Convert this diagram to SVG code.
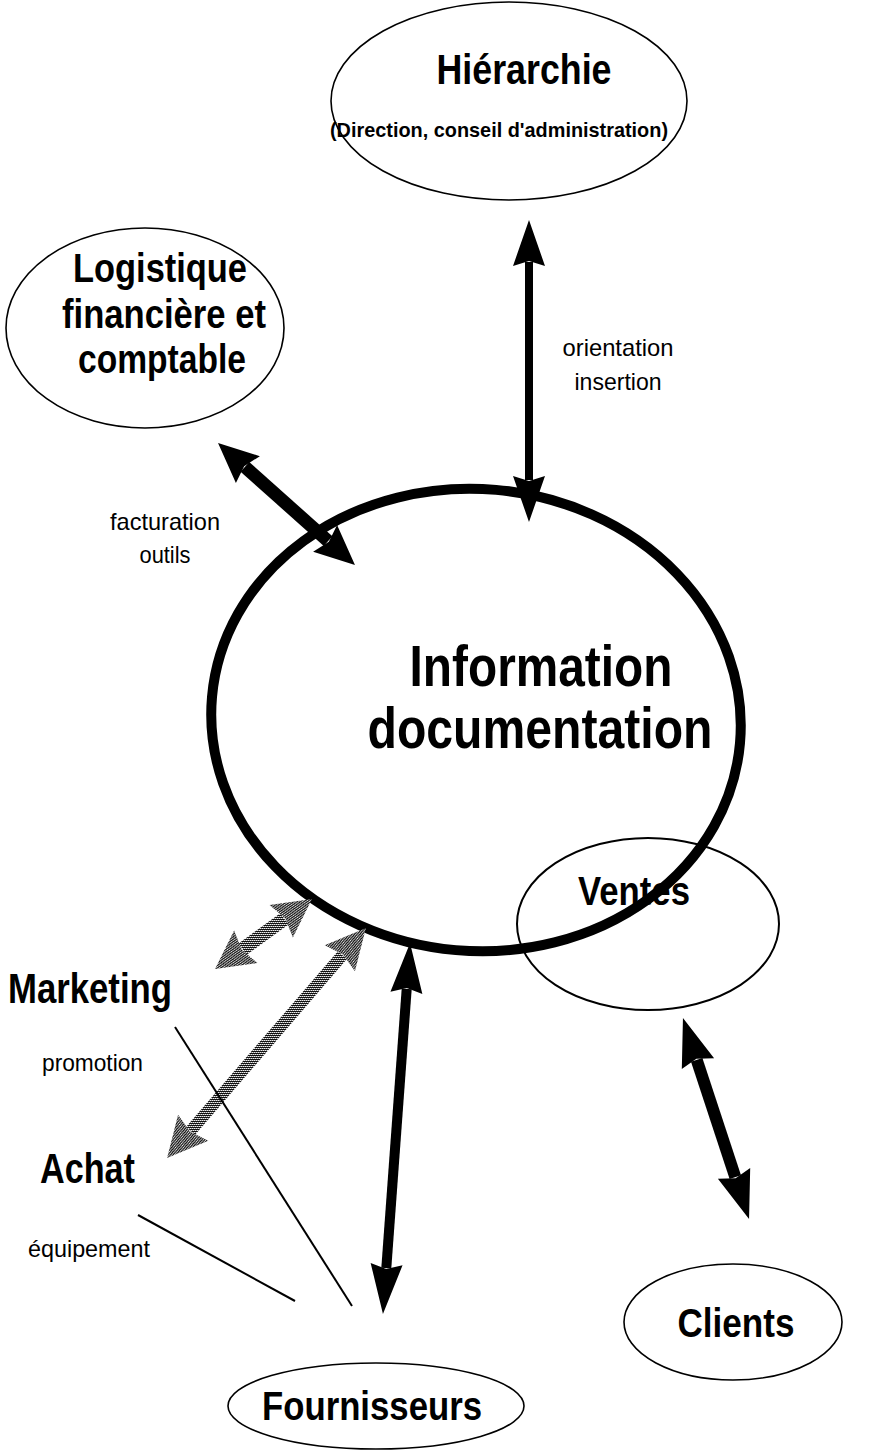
<svg xmlns="http://www.w3.org/2000/svg" width="878" height="1452" viewBox="0 0 878 1452">
  <style>
    .node { fill: none; stroke: #000; }
    .thin { stroke-width: 1.6; }
    .t { font-family: "Liberation Sans Narrow", "Liberation Sans", Arial, sans-serif; fill: #000; }
    .b { font-weight: bold; }
    .mid { text-anchor: middle; }
    .shaft { stroke: #000; fill: none; stroke-linecap: butt; }
    .gray { stroke: url(#dither); }
    .link { stroke: #000; stroke-width: 2; fill: none; }
  </style>
  <defs>
    <!-- halftone used by the two grey arrows -->
    <pattern id="dither" patternUnits="userSpaceOnUse" width="4" height="4">
      <rect width="4" height="4" fill="#111"/>
      <rect x="0" y="0" width="1" height="1" fill="#eee"/>
      <rect x="2" y="0" width="1" height="1" fill="#eee"/>
      <rect x="1" y="2" width="1" height="1" fill="#eee"/>
      <rect x="3" y="2" width="1" height="1" fill="#eee"/>
      <rect x="1" y="0" width="1" height="1" fill="#888"/>
      <rect x="3" y="0" width="1" height="1" fill="#888"/>
      <rect x="0" y="2" width="1" height="1" fill="#888"/>
      <rect x="2" y="2" width="1" height="1" fill="#888"/>
    </pattern>
    <marker id="hA" markerUnits="userSpaceOnUse" viewBox="0 0 46 32" markerWidth="46" markerHeight="32" refX="4" refY="16" orient="auto-start-reverse" overflow="visible">
      <path d="M0,0 L46,16 L0,32 L5,16 z" fill="#000"/>
    </marker>
    <marker id="hB" markerUnits="userSpaceOnUse" viewBox="0 0 40 36" markerWidth="40" markerHeight="36" refX="4" refY="18" orient="auto-start-reverse" overflow="visible">
      <path d="M0,0 L40,18 L0,36 L5,18 z" fill="#000"/>
    </marker>
    <marker id="hC" markerUnits="userSpaceOnUse" viewBox="0 0 48 34" markerWidth="48" markerHeight="34" refX="4" refY="17" orient="auto-start-reverse" overflow="visible">
      <path d="M0,0 L48,17 L0,34 L5,17 z" fill="#000"/>
    </marker>
    <marker id="hD" markerUnits="userSpaceOnUse" viewBox="0 0 50 32" markerWidth="50" markerHeight="32" refX="4" refY="16" orient="auto-start-reverse" overflow="visible">
      <path d="M0,0 L50,16 L0,32 L5,16 z" fill="#000"/>
    </marker>
    <marker id="hG1" markerUnits="userSpaceOnUse" viewBox="0 0 38 40" markerWidth="38" markerHeight="40" refX="4" refY="20" orient="auto-start-reverse" overflow="visible">
      <path d="M0,0 L38,20 L0,40 L5,20 z" fill="url(#dither)"/>
    </marker>
    <marker id="hG2" markerUnits="userSpaceOnUse" viewBox="0 0 40 40" markerWidth="40" markerHeight="40" refX="4" refY="20" orient="auto-start-reverse" overflow="visible">
      <path d="M0,0 L40,20 L0,40 L5,20 z" fill="url(#dither)"/>
    </marker>
  </defs>
  <rect width="878" height="1452" fill="#fff"/>

  <g id="hierarchie">
    <ellipse class="node thin" cx="509" cy="101" rx="178" ry="99"/>
    <text class="t b mid" x="524" y="84" font-size="42" textLength="175" lengthAdjust="spacingAndGlyphs">Hiérarchie</text>
    <text class="t b mid" x="499" y="137" font-size="21" textLength="338" lengthAdjust="spacingAndGlyphs">(Direction, conseil d'administration)</text>
  </g>

  <g id="logistique">
    <ellipse class="node thin" cx="145" cy="328" rx="139" ry="100"/>
    <text class="t b mid" x="160" y="282" font-size="41" textLength="174" lengthAdjust="spacingAndGlyphs">Logistique</text>
    <text class="t b mid" x="164" y="328" font-size="41" textLength="204" lengthAdjust="spacingAndGlyphs">financière et</text>
    <text class="t b mid" x="162" y="373" font-size="41" textLength="168" lengthAdjust="spacingAndGlyphs">comptable</text>
  </g>

  <g id="information">
    <ellipse class="node" cx="476" cy="720" rx="265" ry="231" stroke-width="10" transform="rotate(5 476 720)"/>
    <text class="t b mid" x="541" y="686" font-size="58" textLength="263" lengthAdjust="spacingAndGlyphs">Information</text>
    <text class="t b mid" x="540" y="748" font-size="58" textLength="345" lengthAdjust="spacingAndGlyphs">documentation</text>
  </g>

  <g id="ventes">
    <ellipse class="node" cx="648" cy="924" rx="131" ry="86" stroke-width="2"/>
    <text class="t b mid" x="634" y="905" font-size="40" textLength="112" lengthAdjust="spacingAndGlyphs">Ventes</text>
  </g>

  <g id="clients">
    <ellipse class="node thin" cx="733" cy="1322" rx="109" ry="58"/>
    <text class="t b mid" x="736" y="1337" font-size="40" textLength="117" lengthAdjust="spacingAndGlyphs">Clients</text>
  </g>

  <g id="fournisseurs">
    <ellipse class="node thin" cx="376" cy="1406" rx="148" ry="43"/>
    <text class="t b mid" x="372" y="1420" font-size="40" textLength="220" lengthAdjust="spacingAndGlyphs">Fournisseurs</text>
  </g>

  <g id="marketing">
    <text class="t b" x="8" y="1003" font-size="42" textLength="164" lengthAdjust="spacingAndGlyphs">Marketing</text>
    <text class="t" x="42" y="1071" font-size="24" textLength="101" lengthAdjust="spacingAndGlyphs">promotion</text>
  </g>

  <g id="achat">
    <text class="t b" x="40" y="1183" font-size="42" textLength="95" lengthAdjust="spacingAndGlyphs">Achat</text>
    <text class="t" x="28" y="1257" font-size="24" textLength="122" lengthAdjust="spacingAndGlyphs">équipement</text>
  </g>

  <g id="connectors">
    <!-- Hiérarchie <-> Information -->
    <line class="shaft" x1="529" y1="262" x2="529" y2="480" stroke-width="8" marker-start="url(#hA)" marker-end="url(#hA)"/>
    <text class="t mid" x="618" y="356" font-size="24" textLength="111" lengthAdjust="spacingAndGlyphs">orientation</text>
    <text class="t mid" x="618" y="390" font-size="24" textLength="87" lengthAdjust="spacingAndGlyphs">insertion</text>

    <!-- Logistique <-> Information -->
    <line class="shaft" x1="244.9" y1="466.9" x2="328.1" y2="541.1" stroke-width="13" marker-start="url(#hB)" marker-end="url(#hB)"/>
    <text class="t mid" x="165" y="530" font-size="24" textLength="110" lengthAdjust="spacingAndGlyphs">facturation</text>
    <text class="t mid" x="165" y="563" font-size="24" textLength="51" lengthAdjust="spacingAndGlyphs">outils</text>

    <!-- Ventes <-> Clients -->
    <line class="shaft" x1="696.7" y1="1059.8" x2="735.3" y2="1177.2" stroke-width="12" marker-start="url(#hC)" marker-end="url(#hC)"/>

    <!-- Information <-> Fournisseurs -->
    <line class="shaft" x1="406.7" y1="988.9" x2="386.3" y2="1268.1" stroke-width="10" marker-start="url(#hD)" marker-end="url(#hD)"/>

    <!-- Marketing <-> Information (grey) -->
    <line class="shaft gray" x1="242.6" y1="949.1" x2="284.4" y2="918.9" stroke-width="14" marker-start="url(#hG1)" marker-end="url(#hG1)"/>

    <!-- Achat <-> Information (grey) -->
    <line class="shaft gray" x1="190.6" y1="1130.8" x2="342.4" y2="955.2" stroke-width="12" marker-start="url(#hG2)" marker-end="url(#hG2)"/>

    <!-- Marketing / Achat towards Fournisseurs -->
    <line class="link" x1="175" y1="1027" x2="352" y2="1306"/>
    <line class="link" x1="138" y1="1215" x2="295" y2="1301"/>
  </g>
</svg>
